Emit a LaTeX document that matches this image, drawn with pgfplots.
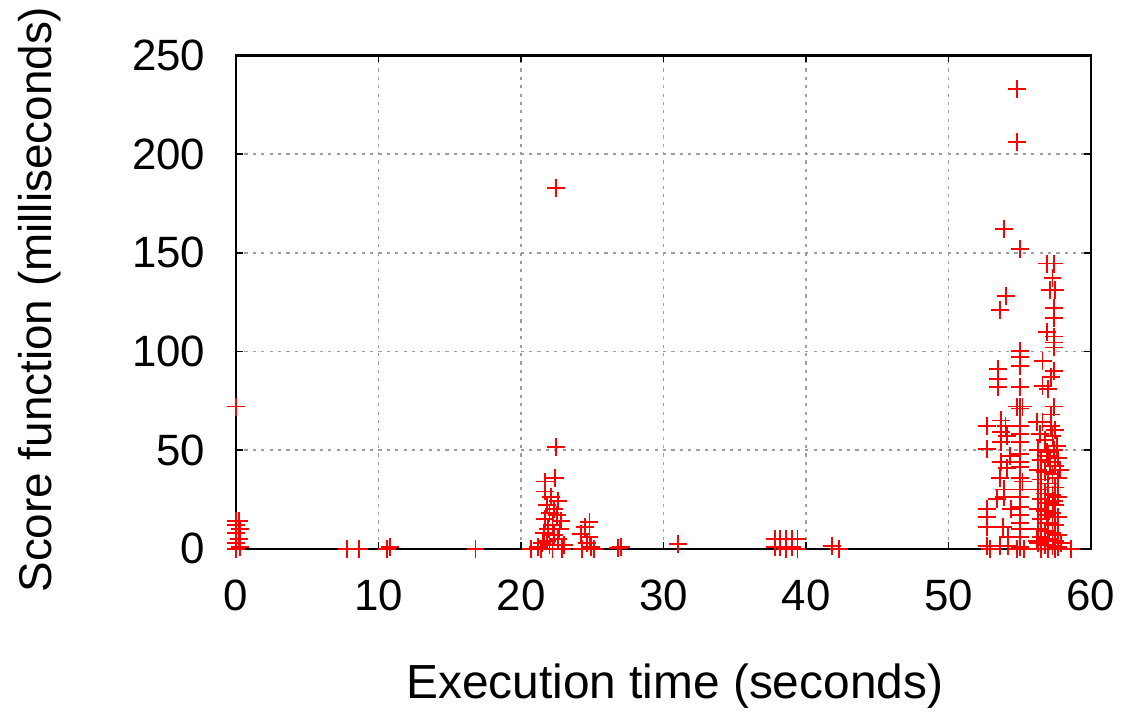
\documentclass[border=0pt]{standalone}
\usepackage{fontspec}
\setmainfont{Liberation Sans}
\usepackage{pgfplots}
\pgfplotsset{compat=1.18}
\begin{document}
\begin{tikzpicture}
\begin{axis}[
  scale only axis,
  width=429pt, height=247.5pt,
  xmin=0, xmax=60, ymin=0, ymax=250,
  xtick={0,10,...,60}, ytick={0,50,...,250},
  tick align=inside,
  major tick length=3.5pt,
  every tick/.style={black, line width=0.8pt},
  axis line style={line width=1.1pt},
  grid=major,
  major grid style={gray!75, line width=0.8pt, dash pattern=on 1.6pt off 2.6pt},
  /pgf/number format/assume math mode=true,
  tick label style={font=\fontsize{22}{26}\selectfont},
  yticklabel style={xshift=-12pt},
  xticklabel style={yshift=-12pt},
  xlabel={Execution time (seconds)},
  ylabel={Score function (milliseconds)},
  xlabel style={font=\fontsize{24}{28}\selectfont, at={(axis description cs:0.513,-0.279)}, anchor=center},
  ylabel style={font=\fontsize{23}{27}\selectfont, at={(axis description cs:-0.2296,0.505)}, anchor=center, rotate=0},
]
\addplot[only marks, mark=+, mark size=4.5pt, red, line width=0.9pt] coordinates {
(0,72) (0,14) (0.2,14) (0,12) (0.3,10) (0,8) (0.2,5) (0,3) (0.3,1) (0,0)
(7.8,0) (8.6,0) (10.6,0) (10.8,1) (16.8,0)
(20.7,0) (21.2,1) (21.5,3) (21.8,4) (22.0,2) (21.6,8) (21.9,10) (22.2,12) (21.7,15)
(22.0,18) (22.3,20) (21.8,22) (22.6,24) (22.1,26) (21.7,29) (21.7,34) (22.4,36)
(22.45,51.5) (22.45,183) (22.9,0) (22.6,5) (22.3,7) (22.8,14) (22.5,17) (23.0,2)
(22.2,0) (21.4,0) (22.7,10)
(24.8,13.5) (24.5,11) (24.2,7.5) (24.8,6) (24.6,3) (24.9,1) (24.3,0) (25.1,0)
(26.8,0.5) (27.0,1) (31.0,2.5)
(37.8,5) (38.2,5) (38.6,5) (39.0,5) (39.4,5) (37.8,1) (38.2,1) (38.6,0) (39.0,1) (39.4,0)
(41.8,1.5) (42.3,0)
(52.7,62) (52.7,50.5) (52.7,20) (52.7,16) (52.7,11) (52.7,1.5) (52.9,0)
(53.5,91) (53.5,86) (53.5,82) (53.6,121) (53.9,162) (54.05,128) (53.7,65) (53.7,59)
(53.7,54) (53.6,36) (53.9,30) (53.9,26) (53.6,1.5) (53.8,11) (54.2,6) (54.2,1.5)
(54.0,62) (54.1,57) (54.3,47) (53.4,25) (54.4,20) (53.7,44) (54.1,41)
(54.8,233) (54.8,206) (55,152) (55,100) (55,97) (55,92.5) (55,82) (55,72) (54.8,72)
(55.2,72) (55,71) (55,62) (55,58) (55,54) (55,48) (55,44) (55,41.5) (55,36) (55.2,34)
(55,30) (55,26) (55,21) (55,17) (55,13) (55,10) (55,6) (55,1) (54.8,0) (55.3,0)
(56.9,144.5) (57.4,144.5) (57.3,137) (57.1,131) (57.5,131) (57.4,122) (57.4,117)
(56.9,110) (57.4,107.5) (57.4,104.5) (57.4,102) (56.6,95) (57.4,90) (57.2,87)
(56.6,82.5) (57,81) (56.2,64) (57.4,72) (57.2,68) (57.5,60)
(56.4,58) (56.8,55) (57.3,57) (57.6,52) (56.3,50) (56.9,49) (57.4,50) (57.7,46)
(56.5,45) (57.1,44) (57.5,42) (56.3,40) (56.8,39) (57.3,38) (57.7,36) (56.5,35)
(57.0,33) (57.5,31) (56.3,30) (56.8,28) (57.3,27) (57.7,26) (56.5,25) (57.0,23)
(57.5,22) (56.3,20) (56.8,19) (57.3,18) (57.7,16) (56.5,15) (57.0,13) (57.5,12)
(56.3,10) (56.8,9) (57.3,8) (57.7,7) (56.5,6) (57.0,5) (57.5,4) (56.3,3) (56.8,2)
(57.3,1.5) (57.7,1) (56.5,0) (57.0,0) (57.5,0) (58.6,0) (56.2,4) (57.9,3) (57.2,62)
(56.6,64) (57.8,40) (57.0,47) (56.9,17) (57.4,24)
};
\coordinate (bbsw) at (rel axis cs:-0.2762,-0.3253);
\coordinate (bbne) at (rel axis cs:1.0315,1.1111);
\end{axis}
\path (bbsw) rectangle (bbne);
\end{tikzpicture}
\end{document}
